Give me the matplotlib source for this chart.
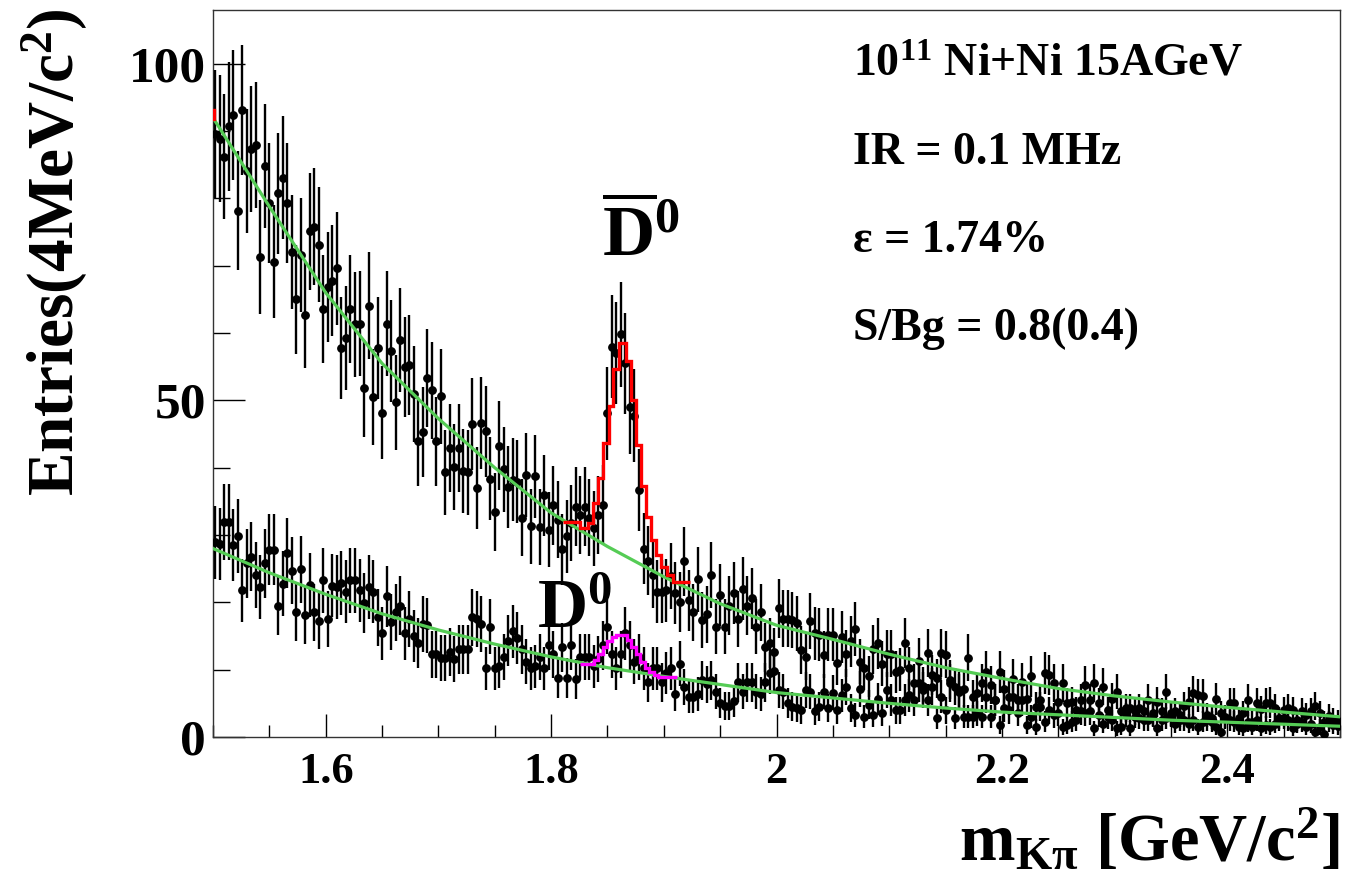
import numpy as np
import matplotlib
matplotlib.use("Agg")
import matplotlib.pyplot as plt
from matplotlib.ticker import MultipleLocator, FixedLocator

# ---------------- data ----------------
bin_lo, bin_w = 1.5, 0.004   # 4 MeV bins from 1.5 GeV

upper_counts = [
    89.6, 88.9, 86.2, 90.7, 92.4, 78.2, 93.2, 84.1, 87.4, 87.9,
    71.3, 84.8, 79.3, 70.6, 80.8, 83.1, 79.3, 72.0, 65.0, 71.6,
    62.7, 75.1, 75.8, 73.1, 63.6, 66.8, 67.8, 69.6, 57.8, 59.3,
    63.6, 61.3, 61.4, 51.8, 64.1, 50.5, 57.8, 48.2, 61.4, 57.3,
    49.7, 59.0,
    55.0, 55.3, 51.0, 43.9, 45.3, 53.3, 51.5, 43.9, 50.6, 39.3,
    42.9, 40.1, 42.9, 39.5, 39.3, 46.5, 37.0, 46.7, 45.4, 38.4,
    33.4, 43.3, 39.8, 37.2, 38.2, 37.9,
    32.6, 38.9, 31.3, 38.7, 31.2, 35.9, 30.8, 34.4, 32.3, 27.9,
    29.8, 31.8, 34.2, 33.0, 34.2, 32.6, 31.0, 33.0, 34.5, 48.1,
    58.0, 57.0, 59.8, 55.5, 49.0, 47.7, 36.7, 28.0, 26.2,
    24.0, 21.6, 21.6, 21.8, 23.9, 21.4, 20.1, 26.1, 20.3, 18.5,
    23.4, 17.4, 18.2, 24.1, 16.4, 21.1, 16.4, 19.5, 21.4, 17.5,
    22.0, 19.5, 20.6, 16.4, 18.5, 13.3, 14.0, 12.6,
    19.1, 17.6, 17.6, 17.4, 16.9, 12.9, 11.9, 17.3, 15.4, 15.2,
    12.2, 15.2, 15.2, 11.0, 14.9, 12.4, 14.2, 16.1, 11.2, 10.2,
    9.0, 13.0, 13.9, 10.9, 12.4, 12.4, 9.7, 10.0, 14.0, 10.2,
    8.0, 11.3, 7.6, 12.5, 9.2, 8.7, 12.5, 12.2, 8.5, 7.5,
    7.0, 7.2, 11.8, 6.0, 6.6, 8.0, 9.7, 7.7, 5.5, 9.7,
    7.2, 6.0, 8.6, 5.5, 8.2, 5.7, 9.0, 4.5, 5.5,
    9.5, 9.2, 8.0, 5.2, 8.0, 5.0, 5.2, 4.0, 5.5, 7.7,
    5.5, 8.0, 5.0, 7.5, 4.0, 5.6, 6.7, 3.8, 4.3, 4.3,
    3.8, 4.3, 3.8, 5.5, 3.5, 5.2, 3.8, 6.7, 3.5, 3.8,
    3.3, 4.6, 5.2, 6.5, 6.2, 6.1, 3.3, 2.8, 5.7, 3.5,
    3.0, 5.0, 5.0, 2.8, 3.5, 5.5, 2.3, 5.0, 4.1, 5.0,
    5.1, 4.3, 2.8, 4.0, 4.3, 4.0, 2.5, 3.8, 3.3, 3.8,
    4.6, 3.5, 2.3, 3.1, 2.7, 2.4,
]

lower_counts = [
    28.9, 28.7, 32.0, 32.0, 28.5, 29.9, 21.8, 25.8, 26.8, 24.0,
    22.3, 25.8, 27.8, 27.8, 19.5, 22.8, 27.3, 24.7, 18.5, 24.9,
    18.1, 22.6, 18.5, 17.2, 23.3, 17.5, 22.5, 22.3, 22.9, 21.6,
    23.3, 23.3, 21.8, 19.9, 22.3, 21.6, 17.8, 15.4, 20.9, 17.1,
    18.5, 19.5,
    15.4, 17.5, 15.0, 14.0, 16.8, 16.6, 12.3, 12.3, 11.7, 11.7,
    12.6, 11.6, 13.0, 13.0, 13.0, 17.8, 17.5, 16.8, 10.2, 16.4,
    10.2, 10.5, 11.9, 14.3, 15.7, 14.7, 13.0, 11.2, 10.2, 10.5,
    11.9, 10.2, 13.6, 12.3, 8.8, 13.3, 8.8, 13.6,
    8.6, 11.9, 11.9, 11.9, 10.5, 11.6, 13.6, 16.4, 12.3, 10.2,
    12.3, 15.4, 13.6, 11.2, 11.9, 10.2, 8.1, 10.2, 10.2, 8.1,
    9.5, 10.2, 6.4, 10.9, 7.4, 6.0, 6.0, 6.4, 8.4, 7.8,
    8.4, 6.7, 5.0, 4.6, 4.6, 5.3, 8.1, 6.7, 8.1, 8.1,
    6.7, 6.4, 8.1, 9.5, 9.8,
    7.0, 6.7, 5.0, 4.5, 4.3, 4.0, 7.0, 6.7, 3.8, 4.5,
    6.7, 4.3, 6.6, 4.0, 6.2, 7.4, 4.3, 3.3, 7.1, 3.0,
    4.8, 3.3, 5.6, 3.5, 7.0, 5.5, 4.0, 4.0, 5.5, 6.2,
    5.5, 8.0, 7.0, 5.5, 7.5, 2.8, 6.0, 4.0, 8.0, 2.8,
    6.7, 3.0, 3.0, 3.0, 3.5, 3.0, 6.0, 3.0, 5.5, 1.8,
    4.3, 4.0, 6.0, 3.5, 5.5, 1.8, 3.0, 1.5, 4.5, 2.3,
    4.0, 3.2,
    3.5, 1.5, 1.8, 2.3, 2.5, 3.8, 3.5, 3.8, 1.3, 3.3,
    2.0, 2.9, 2.5, 1.3, 1.5, 3.3, 1.3, 3.0, 2.8, 2.5,
    2.5, 3.3, 1.3, 2.5, 2.8, 3.3, 1.9, 2.5, 2.5, 2.0,
    2.5, 1.5, 2.3, 2.5, 2.3, 1.5, 0.8, 2.8, 2.5, 2.3,
    1.5, 1.3, 2.2, 1.5, 2.5, 1.3, 1.8, 1.5, 2.0, 2.5,
    2.8, 2.5, 1.3, 2.0, 2.3, 1.5, 2.0, 0.8, 1.5, 0.5,
    2.3, 1.8, 1.6,
]

# background fits (green), read at 0.05 GeV steps
fit_x = [1.50, 1.55, 1.60, 1.65, 1.70, 1.75, 1.80, 1.85, 1.90, 1.95, 2.00,
         2.05, 2.10, 2.15, 2.20, 2.25, 2.30, 2.35, 2.40, 2.45, 2.50]
upper_fit = [92.0, 78.8, 66.0, 55.5, 47.3, 40.0, 33.3, 28.3, 23.8, 19.8, 16.6,
             14.5, 12.3, 10.3, 8.7, 7.2, 6.1, 5.2, 4.4, 3.7, 3.0]
lower_fit = [28.0, 24.4, 21.2, 18.3, 15.9, 13.8, 11.9, 10.3, 9.0, 7.8, 6.6,
             5.8, 5.0, 4.3, 3.7, 3.3, 2.9, 2.5, 2.2, 1.9, 1.6]

# signal + background (red, anti-D0) as steps
red_edges = [1.811, 1.826, 1.833, 1.8375, 1.842, 1.846, 1.851, 1.855, 1.860,
             1.8665, 1.871, 1.875, 1.8795, 1.884, 1.8885, 1.893, 1.8975,
             1.9025, 1.9085, 1.923]
red_vals = [32.0, 31.0, 31.8, 34.8, 38.5, 43.7, 49.2, 54.7, 58.6, 55.9, 50.1,
            43.4, 37.3, 32.7, 29.3, 27.0, 25.3, 24.1, 23.0]
red_stub_y = [91.8, 93.2]

# signal + background (magenta, D0) as steps
mag_edges = [1.826, 1.838, 1.842, 1.846, 1.850, 1.854, 1.858, 1.867, 1.871,
             1.875, 1.879, 1.883, 1.887, 1.891, 1.895, 1.912]
mag_vals = [10.8, 11.5, 12.3, 13.3, 14.2, 14.8, 15.2, 14.4, 13.4, 12.3, 11.2,
            10.3, 9.6, 9.2, 8.9]

xtick_vals = [1.6, 1.8, 2.0, 2.2, 2.4]
xtick_labels = ["1.6", "1.8", "2", "2.2", "2.4"]
ytick_vals = [0, 50, 100]
ytick_labels = ["0", "50", "100"]

info_lines = [r"$\mathbf{10^{11}}$ Ni+Ni 15AGeV", "IR = 0.1 MHz",
              "\u03b5 = 1.74%", "S/Bg = 0.8(0.4)"]

# ---------------- style ----------------
SERIF = "Liberation Serif"
plt.rcParams["mathtext.fontset"] = "custom"
plt.rcParams["mathtext.rm"] = "Liberation Serif:bold"
plt.rcParams["mathtext.it"] = "Liberation Serif:bold"
plt.rcParams["mathtext.bf"] = "Liberation Serif:bold"
plt.rcParams["font.family"] = [SERIF, "DejaVu Serif"]
plt.rcParams["font.weight"] = "bold"

W, H = 1345, 885
fig = plt.figure(figsize=(W / 100, H / 100), dpi=100)
L, R, B, T = 213, 1340, 737, 10
ax = fig.add_axes([L / W, 1 - B / H, (R - L) / W, (B - T) / H])

def fx(px):
    return px / W

def fy(py):
    return 1 - py / H

# ---------------- data points ----------------
up = np.array(upper_counts)
lo = np.array(lower_counts)
xu = bin_lo + bin_w * (np.arange(len(up)) + 0.5)
xl = bin_lo + bin_w * (np.arange(len(lo)) + 0.5)

for xs, ys in ((xu, up), (xl, lo)):
    ax.errorbar(xs, ys, yerr=np.sqrt(ys), fmt="o", color="black",
                ms=5.3, elinewidth=1.7, capsize=0, zorder=3)

green = "#55cc55"
ax.plot(fit_x, upper_fit, color=green, lw=2.3, zorder=4)
ax.plot(fit_x, lower_fit, color=green, lw=2.3, zorder=4)
ax.stairs(red_vals, red_edges, baseline=None, color="#ff0000", lw=2.4,
          zorder=5)
ax.plot([bin_lo + 0.0006] * 2, red_stub_y, color="#ff0000", lw=2.4, zorder=5)
ax.stairs(mag_vals, mag_edges, baseline=None, color="#ff00ff", lw=2.4,
          zorder=5)

# ---------------- axes ----------------
ax.set_xlim(1.5, 2.5)
ax.set_ylim(0, 108)
ax.xaxis.set_major_locator(FixedLocator(xtick_vals))
ax.xaxis.set_minor_locator(MultipleLocator(0.05))
ax.yaxis.set_major_locator(FixedLocator(ytick_vals))
ax.yaxis.set_minor_locator(MultipleLocator(10))
ax.set_xticklabels(xtick_labels, fontsize=32, fontweight="bold", family=SERIF)
ax.set_yticklabels(ytick_labels, fontsize=37, fontweight="bold", family=SERIF)
ax.tick_params(axis="x", which="major", direction="in", length=16.5, width=1,
               pad=11, top=False)
ax.tick_params(axis="x", which="minor", direction="in", length=8.6, width=1,
               top=False)
ax.tick_params(axis="y", which="major", direction="in", length=23, width=1,
               pad=5, right=False)
ax.tick_params(axis="y", which="minor", direction="in", length=12, width=1,
               right=False)
for sp in ax.spines.values():
    sp.set_linewidth(1.0)
    sp.set_color("#333333")

# ---------------- titles and annotations ----------------
fig.text(fx(1340), fy(860), r"m$_{\mathrm{K\pi}}$ [GeV/c$^{\mathbf{2}}$]",
         fontsize=48, fontweight="bold", ha="right", va="baseline")
fig.text(fx(55), fy(8), r"Entries(4MeV/c$^{\mathbf{2}}$)", rotation=90,
         fontsize=47, fontweight="bold", ha="center", va="top")

for i, line in enumerate(info_lines):
    fig.text(fx(853), fy(76 + 88 * i), line, fontsize=33,
             fontweight="bold", ha="left", va="baseline")

fig.text(fx(602), fy(256), r"$\overline{\mathrm{D}}^{0}$", fontsize=52,
         ha="left", va="baseline")
fig.text(fx(537), fy(628), r"$\mathrm{D}^{0}$", fontsize=50,
         ha="left", va="baseline")

fig.savefig("out.png", dpi=100, facecolor="white")
